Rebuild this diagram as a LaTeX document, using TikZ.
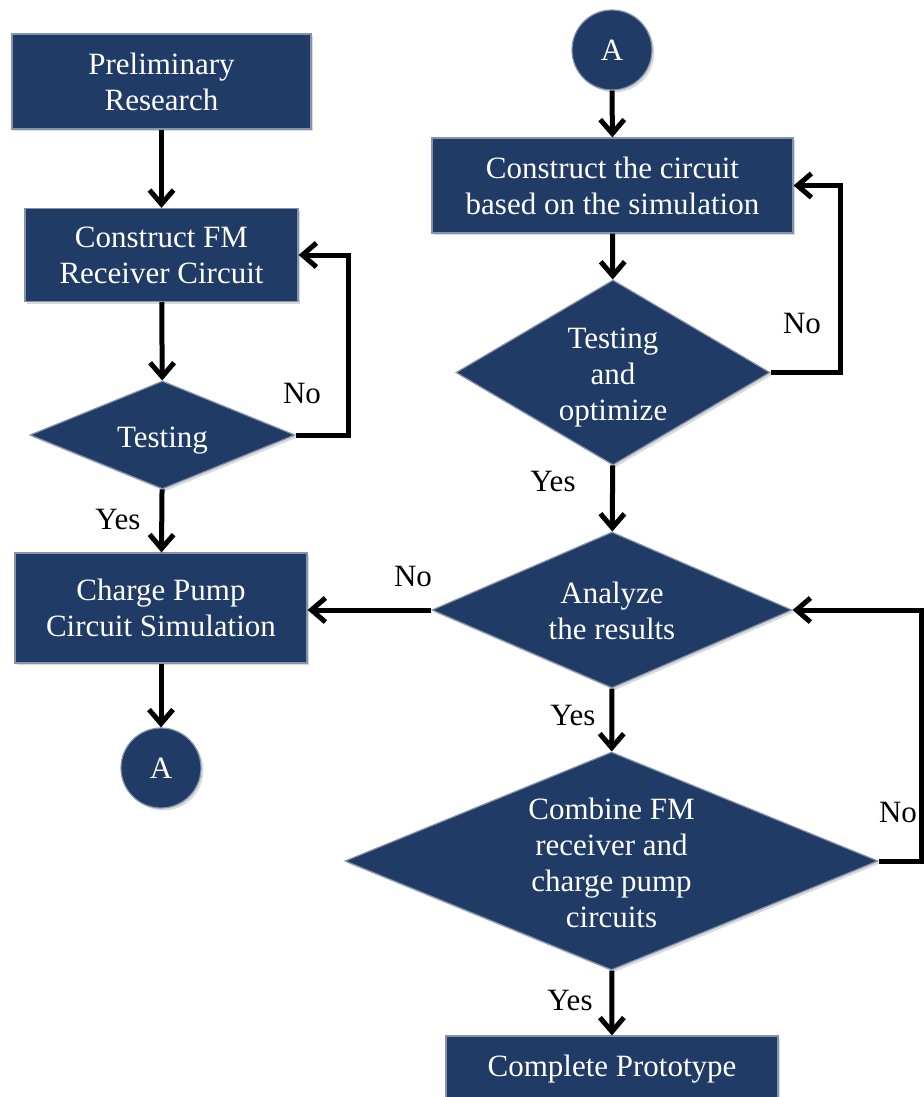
\documentclass[tikz,border=0pt]{standalone}
\usepackage{fontspec}
\setmainfont{Liberation Serif}
\usetikzlibrary{shapes.geometric, arrows.meta, shadows}

\definecolor{flowblue}{RGB}{31,59,102}

\tikzset{
    stepblock/.style={rectangle, fill=flowblue, draw=flowblue!55!white, line width=0.6pt,
        text=white, align=center, font=\fontsize{15.5}{18}\selectfont,
        drop shadow={opacity=0.3, shadow xshift=1.2pt, shadow yshift=-1.2pt}},
    decision/.style={diamond, fill=flowblue, draw=flowblue!55!white, line width=0.6pt,
        inner sep=0pt, drop shadow={opacity=0.3, shadow xshift=1.2pt, shadow yshift=-1.2pt}},
    decisiontext/.style={text=white, align=center, font=\fontsize{15.5}{18}\selectfont},
    offpage/.style={circle, fill=flowblue, draw=flowblue!55!white, line width=0.6pt,
        minimum size=40pt, inner sep=0pt, text=white, font=\fontsize{15.5}{18}\selectfont,
        drop shadow={opacity=0.3, shadow xshift=1.2pt, shadow yshift=-1.2pt}},
    flow/.style={line width=2.5pt, -{Straight Barb[length=7pt,width=12pt]}},
    answer/.style={font=\fontsize{15.5}{18}\selectfont},
}

\begin{document}
\begin{tikzpicture}[x=0.5pt, y=-0.5pt]
    \useasboundingbox (0,0) rectangle (924,1097);
    \clip (0,0) rectangle (924,1097);

    % left column
    \node[stepblock, minimum width=149.5pt, minimum height=47.5pt] (prelim) at (161.5,81.5) {Preliminary\\Research};
    \node[stepblock, minimum width=136.5pt, minimum height=46.5pt] (buildfm) at (161.5,255) {Construct FM\\Receiver Circuit};
    \node[decision, minimum width=132.5pt, minimum height=54pt,
          label={[decisiontext, yshift=-3pt]center:Testing}] (testfm) at (162.5,435) {};
    \node[stepblock, minimum width=146pt, minimum height=55pt] (pumpsim) at (161,608) {Charge Pump\\Circuit Simulation};
    \node[offpage] (linkout) at (161,768) {A};

    % right column
    \node[offpage] (linkin) at (612,50) {A};
    \node[stepblock, minimum width=180.5pt, minimum height=47.5pt] (buildsim) at (612.5,185.5) {Construct the circuit\\based on the simulation};
    \node[decision, minimum width=157pt, minimum height=92.5pt,
          label={[decisiontext, yshift=-2.5pt]center:{Testing\\and\\optimize}}] (optim) at (613,372.5) {};
    \node[decision, minimum width=180pt, minimum height=78pt,
          label={[decisiontext, yshift=-0.5pt]center:{Analyze\\the results}}] (analyze) at (612,610) {};
    \node[decision, minimum width=266.5pt, minimum height=109pt,
          label={[decisiontext, yshift=-1pt]center:{Combine FM\\receiver and\\charge pump\\circuits}}] (combine) at (611.5,861) {};
    \node[stepblock, minimum width=166pt, minimum height=33pt] (proto) at (612,1069) {Complete Prototype};

    % connectors
    \draw[flow] (prelim) -- (buildfm);
    \draw[flow] (buildfm) -- (testfm);
    \draw[flow] (testfm) -- (pumpsim);
    \draw[flow] (testfm.east) -- ++(53,0) |- (buildfm.east);
    \draw[flow] (pumpsim) -- (linkout);

    \draw[flow] (linkin) -- (buildsim);
    \draw[flow] (buildsim) -- (optim);
    \draw[flow] (optim.east) -- ++(70,0) |- (buildsim.east);
    \draw[flow] (optim) -- (analyze);
    \draw[flow] (analyze.west) -- (analyze.west -| pumpsim.east);
    \draw[flow] (analyze) -- (combine);
    \draw[flow] (combine.east) -- ++(43,0) |- (analyze.east);
    \draw[flow] (combine) -- (proto);

    % branch labels
    \node[answer] (nofm) at (302,393) {No};
    \node[answer] (yesfm) at (118,519) {Yes};
    \node[answer] (noopt) at (802,323) {No};
    \node[answer] (yesopt) at (553,481) {Yes};
    \node[answer] (noana) at (413,576) {No};
    \node[answer] (yesana) at (573,715) {Yes};
    \node[answer] (nocomb) at (898,812) {No};
    \node[answer] (yescomb) at (570,1000) {Yes};
\end{tikzpicture}
\end{document}
